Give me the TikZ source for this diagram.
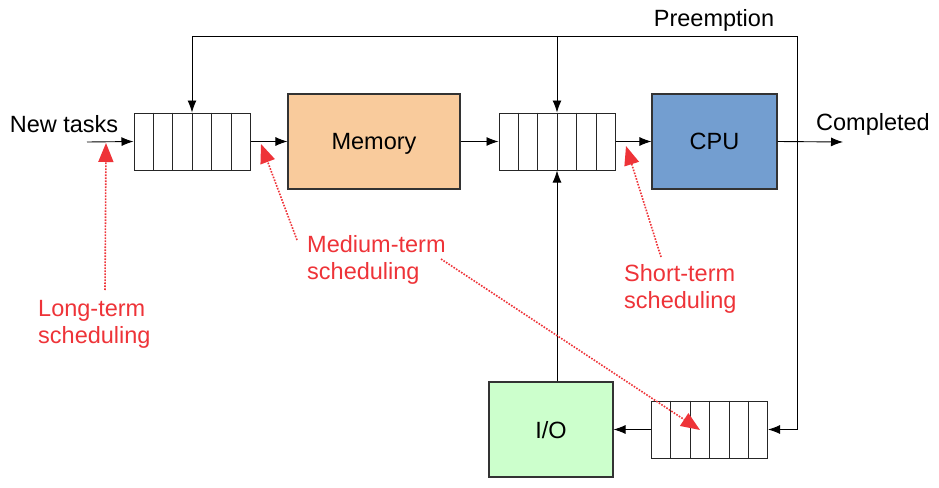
\documentclass[tikz,border=0pt]{standalone}
\usepackage{fontspec}
\setmainfont{Liberation Sans}
\usetikzlibrary{arrows.meta,calc}
\definecolor{memfill}{HTML}{F9CB9C}
\definecolor{cpufill}{HTML}{739ED0}
\definecolor{iofill}{HTML}{CCFFCC}
\definecolor{annot}{HTML}{EE3338}
\begin{document}
\begin{tikzpicture}[x=1pt,y=-1pt,
  box/.style={draw=black!80,line width=1.1pt,minimum width=#1,minimum height=95pt,inner sep=0pt,text depth=0pt,font=\fontsize{23.5}{27}\selectfont},
  queue/.style={draw=black!85,line width=1pt,minimum width=116pt,minimum height=57pt,inner sep=0pt},
  arr/.style={line width=0.9pt,-{Latex[length=12pt,width=9pt]}},
  lbl/.style={font=\fontsize{23.5}{27}\selectfont,inner sep=0pt},
  note/.style={font=\fontsize{23.5}{27}\selectfont,inner sep=0pt,text=annot,align=left,anchor=west},
  red/.style={draw=annot,line width=1.6pt,dash pattern=on 1.6pt off 1.4pt,-{Triangle[length=19pt,width=15pt]}}
]
\useasboundingbox (0,0) rectangle (939,487);
% queues
\node[queue] (q1) at (192,141.5) {};
\node[queue] (q2) at (557,141.5) {};
\node[queue] (q3) at (709.5,429.5) {};
\foreach \q in {q1,q2,q3}{
  \foreach \i in {1,...,5}{
    \draw[black!85,line width=1pt] ($(\q.north west)!\i/6!(\q.north east)$) -- ($(\q.south west)!\i/6!(\q.south east)$);
  }
}
% boxes
\node[box=172pt,fill=memfill] (mem) at (374,141.5) {Memory};
\node[box=125pt,fill=cpufill] (cpu) at (714.5,141.5) {CPU};
\node[box=124pt,fill=iofill] (io) at (551,429.5) {I/O};
% labels
\node[lbl] (newt) at (64,124) {New tasks};
\node[lbl] (compl) at (873,124) {Completed};
\node[lbl] (pre) at (714,20) {Preemption};
% coordinates
\coordinate (newin) at (87,142);
\coordinate (done) at (843,142);
\coordinate (branch) at (797,142);
\coordinate (top) at (0,36);
% connectors
\draw[arr] (newin) -- (q1.west);
\draw[arr] (q1.east) -- (mem.west);
\draw[arr] (mem.east) -- (q2.west);
\draw[arr] (q2.east) -- (cpu.west);
\draw[arr] (cpu.east) -- (done);
\draw[arr] (branch) |- (q1.north |- top) -- (q1.north);
\draw[arr] (q2.north |- top) -- (q2.north);
\draw[arr] (branch) |- (q3.east);
\draw[arr] (q3.west) -- (io.east);
\draw[arr] (io.north -| q2.south) -- (q2.south);
% annotations
\node[note] (lt) at (38,324.5) {Long-term\\scheduling};
\node[note] (mt) at (307,259.5) {Medium-term\\scheduling};
\node[note] (st) at (624,288.5) {Short-term\\scheduling};
\coordinate (ltS) at (105,290);
\coordinate (ltT) at (106,143);
\coordinate (mtS) at (297,240);
\coordinate (mtT) at (261,144);
\coordinate (mtS2) at (441,259);
\coordinate (mtT2) at (700,430);
\coordinate (stS) at (661,257);
\coordinate (stT) at (626,146);
\draw[red] (ltS) -- (ltT);
\draw[red] (mtS) -- (mtT);
\draw[red] (mtS2) -- (mtT2);
\draw[red] (stS) -- (stT);
\end{tikzpicture}
\end{document}
